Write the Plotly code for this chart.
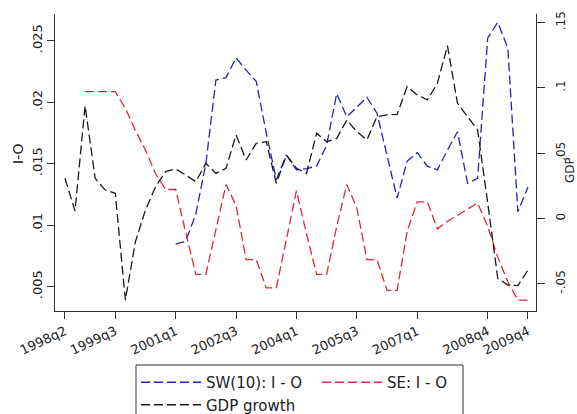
import plotly.graph_objects as go

# Quarterly periods, 1998q2 .. 2009q4
quarters = [f"{y}q{q}" for y in range(1998, 2010) for q in range(1, 5)][1:]

# Series values (one per quarter; None where the series is not available)
sw10_io = [None] * 11 + [
    0.00845, 0.0087, 0.0109, 0.0150, 0.0218, 0.0220, 0.0236, 0.0226, 0.0217, 0.0175,
    0.0137, 0.0157, 0.0145, 0.0146, 0.0148, 0.0165, 0.0207, 0.0188, 0.0196, 0.0204,
    0.0191, 0.0157, 0.0122, 0.0152, 0.0159, 0.0148, 0.0145, 0.0161, 0.0176, 0.0134,
    0.0138, 0.0252, 0.0265, 0.0244, 0.0111, 0.0131,
]
se_io = [None] * 2 + [
    0.02085, 0.02085, 0.02085, 0.02085, 0.0195, 0.0177, 0.0161, 0.0142, 0.0129, 0.0129,
    0.0094, 0.0060, 0.0060, 0.0096, 0.0133, 0.0116, 0.0072, 0.0072, 0.0049, 0.0049,
    0.0089, 0.0128, 0.0093, 0.0060, 0.0060, 0.0099, 0.0133, 0.0114, 0.0072, 0.0072,
    0.0047, 0.0047, 0.0095, 0.0119, 0.0119, 0.0097, 0.0103, 0.0108, 0.0113, 0.0118,
    0.0099, 0.0074, 0.0054, 0.0039, 0.0039,
]
gdp_growth = [
    0.0307, 0.0057, 0.0863, 0.0307, 0.0217, 0.0192, -0.0625, -0.0178, 0.0064, 0.0243,
    0.0358, 0.0378, 0.0332, 0.0281, 0.0422, 0.0345, 0.0384, 0.0639, 0.0447, 0.0575,
    0.0587, 0.0269, 0.0485, 0.0384, 0.0345, 0.0652, 0.0587, 0.0613, 0.0753, 0.0664,
    0.0600, 0.0779, 0.0792, 0.0797, 0.1009, 0.0945, 0.0907, 0.1034, 0.1322, 0.0881,
    0.0779, 0.0677, 0.0120, -0.0459, -0.0510, -0.0515, -0.0395,
]

x_ticks = ["1998q2", "1999q3", "2001q1", "2002q3", "2004q1", "2005q3", "2007q1", "2008q4", "2009q4"]
left_ticks = [0.005, 0.01, 0.015, 0.02, 0.025]
left_ticktext = [".005", ".01", ".015", ".02", ".025"]
right_ticks = [-0.05, 0, 0.05, 0.1, 0.15]
right_ticktext = ["-.05", "0", ".05", ".1", ".15"]

FONT = "DejaVu Sans"
DASH = "9px,4px"
AXIS_COLOR = "#333333"
TEXT_COLOR = "#222222"

fig = go.Figure()
fig.add_trace(go.Scatter(x=quarters, y=sw10_io, mode="lines", name="SW(10): I - O",
                         line=dict(color="#2424c0", width=1.3, dash=DASH), yaxis="y"))
fig.add_trace(go.Scatter(x=quarters, y=se_io, mode="lines", name="SE: I - O",
                         line=dict(color="#e0283a", width=1.3, dash=DASH), yaxis="y"))
fig.add_trace(go.Scatter(x=quarters, y=gdp_growth, mode="lines", name="GDP growth",
                         line=dict(color="#1a1a1a", width=1.3, dash=DASH), yaxis="y2"))

fig.update_layout(
    width=577, height=414,
    margin=dict(l=55, r=41, t=14, b=103, autoexpand=False),
    paper_bgcolor="white", plot_bgcolor="white",
    font=dict(family=FONT, size=13, color=TEXT_COLOR),
    showlegend=True,
    xaxis=dict(
        type="category", categoryorder="array", categoryarray=quarters,
        range=[-0.99, 46.8],
        tickmode="array", tickvals=x_ticks, ticktext=x_ticks, tickangle=-25,
        ticks="outside", ticklen=7, tickcolor=AXIS_COLOR,
        showline=True, linecolor=AXIS_COLOR, linewidth=1,
        showgrid=False, zeroline=False, mirror=False,
        tickfont=dict(family=FONT, size=13, color=TEXT_COLOR),
    ),
    yaxis=dict(
        range=[0.00302, 0.02717],
        tickmode="array", tickvals=left_ticks, ticktext=left_ticktext, tickangle=-90,
        ticks="outside", ticklen=7, tickcolor=AXIS_COLOR,
        showline=True, linecolor=AXIS_COLOR, linewidth=1,
        showgrid=False, zeroline=False,
        tickfont=dict(family=FONT, size=13, color=TEXT_COLOR),
    ),
    yaxis2=dict(
        overlaying="y", side="right",
        range=[-0.0709, 0.1565],
        tickmode="array", tickvals=right_ticks, ticktext=right_ticktext, tickangle=-90,
        ticks="outside", ticklen=8, tickcolor=AXIS_COLOR, ticklabelstandoff=6,
        showline=True, linecolor=AXIS_COLOR, linewidth=1,
        showgrid=False, zeroline=False,
        tickfont=dict(family=FONT, size=12, color=TEXT_COLOR),
    ),
    legend=dict(
        orientation="h", x=(136 - 55) / 481, xanchor="left",
        y=(311 - 366) / 297, yanchor="top",
        itemwidth=60, entrywidth=106, entrywidthmode="pixels",
        bgcolor="rgba(0,0,0,0)", borderwidth=0,
        font=dict(family=FONT, size=15, color=TEXT_COLOR),
        traceorder="normal",
    ),
    shapes=[dict(
        type="rect", xref="paper", yref="paper",
        x0=(136 - 55) / 481, x1=(463 - 55) / 481,
        y0=(311 - 365) / 297, y1=(311 - 424) / 297,
        line=dict(color=AXIS_COLOR, width=1), fillcolor="rgba(0,0,0,0)", layer="below",
    )],
    annotations=[
        dict(text="I-O", xref="paper", yref="paper", x=(18 - 55) / 481, y=(311 - 154) / 297,
             textangle=-90, showarrow=False, xanchor="center", yanchor="middle",
             font=dict(family=FONT, size=14, color=TEXT_COLOR)),
        dict(text="GDP", xref="paper", yref="paper", x=(570 - 55) / 481, y=(311 - 170) / 297,
             textangle=-90, showarrow=False, xanchor="center", yanchor="middle",
             font=dict(family=FONT, size=12, color=TEXT_COLOR)),
    ],
)

fig.write_html("out.html")
